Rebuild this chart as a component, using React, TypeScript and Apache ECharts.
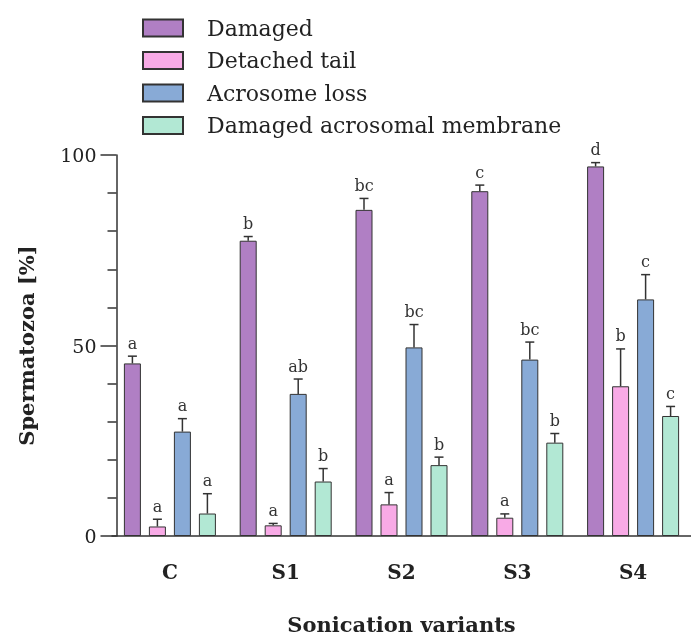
import React, { useEffect, useRef } from "react";
import * as echarts from "echarts";

const categories = ["C", "S1", "S2", "S3", "S4"];
const seriesNames = ["Damaged", "Detached tail", "Acrosome loss", "Damaged acrosomal membrane"];
const damaged = [45.3, 77.5, 85.6, 90.5, 97.0];
const damagedErr = [47.2, 78.6, 88.6, 92.1, 98.0];
const damagedLetters = ["a", "b", "bc", "c", "d"];
const detached = [2.5, 2.8, 8.3, 4.8, 39.3];
const detachedErr = [4.4, 3.3, 11.4, 5.8, 49.1];
const detachedLetters = ["a", "a", "a", "a", "b"];
const acrosome = [27.4, 37.3, 49.5, 46.3, 62.1];
const acrosomeErr = [30.8, 41.2, 55.5, 50.9, 68.6];
const acrosomeLetters = ["a", "ab", "bc", "bc", "c"];
const membrane = [5.9, 14.3, 18.6, 24.5, 31.5];
const membraneErr = [11.1, 17.7, 20.7, 26.9, 34.0];
const membraneLetters = ["a", "b", "b", "b", "c"];
const colors = ["#B07FC4", "#F8AAE6", "#88AAD6", "#B2E8D4"];

const FONT = '"DejaVu Serif", serif';
const BAR_W = 17;
const BAR_GAP = 8;

export default function App() {
  const ref = useRef<HTMLDivElement>(null);
  useEffect(() => {
    if (!ref.current) return;
    const chart = echarts.init(ref.current, null, { renderer: "svg" });
    const means = [damaged, detached, acrosome, membrane];
    const errs = [damagedErr, detachedErr, acrosomeErr, membraneErr];
    const letters = [damagedLetters, detachedLetters, acrosomeLetters, membraneLetters];

    const barSeries = seriesNames.map((name, i) => ({
      name,
      type: "bar",
      data: means[i],
      barWidth: BAR_W,
      barGap: (BAR_GAP / BAR_W) * 100 + "%",
      itemStyle: { color: colors[i], borderColor: "#333", borderWidth: 1 },
      z: 2,
    }));

    const errSeries = seriesNames.map((name, i) => {
      const offset = (i - 1.5) * (BAR_W + BAR_GAP);
      return {
        name: "err-" + name,
        type: "custom",
        z: 3,
        data: categories.map((_, k) => [k, means[i][k], errs[i][k]]),
        encode: { x: 0, y: [1, 2] },
        renderItem: (params: any, api: any) => {
          const ci = api.value(0);
          const c = api.coord([ci, api.value(1)]);
          const t = api.coord([ci, api.value(2)]);
          const x = c[0] + offset;
          const st = { stroke: "#333", lineWidth: 1.5 };
          return {
            type: "group",
            children: [
              { type: "line", shape: { x1: x, y1: c[1], x2: x, y2: t[1] }, style: st },
              { type: "line", shape: { x1: x - 4.5, y1: t[1], x2: x + 4.5, y2: t[1] }, style: st },
              {
                type: "text",
                x,
                y: t[1] - 5,
                style: {
                  text: letters[i][params.dataIndex],
                  align: "center",
                  verticalAlign: "bottom",
                  font: '16px "DejaVu Serif", serif',
                  fill: "#333",
                },
              },
            ],
          };
        },
      };
    });

    chart.setOption({
      animation: false,
      legend: {
        data: seriesNames,
        orient: "vertical",
        left: 142,
        top: 17,
        padding: 0,
        itemWidth: 40,
        itemHeight: 17,
        itemGap: 10.5,
        icon: "rect",
        textStyle: {
          fontFamily: FONT,
          fontSize: 22,
          lineHeight: 22,
          color: "#222",
          padding: [0, 0, 0, 19],
        },
      },
      grid: { left: 112, right: -9, top: 155, bottom: 97 },
      xAxis: {
        type: "category",
        data: categories,
        name: "Sonication variants",
        nameLocation: "middle",
        nameGap: 78,
        nameTextStyle: { fontFamily: FONT, fontSize: 21, fontWeight: "bold", color: "#222" },
        axisLine: { lineStyle: { color: "#333", width: 1.5 } },
        axisTick: { alignWithLabel: true, length: 15, lineStyle: { color: "#333", width: 1.5 } },
        axisLabel: { fontFamily: FONT, fontSize: 20, fontWeight: "bold", color: "#222", margin: 26 },
      },
      yAxis: {
        type: "value",
        min: 0,
        max: 100,
        interval: 50,
        offset: -4.5,
        name: "Spermatozoa [%]",
        nameLocation: "middle",
        nameGap: 80,
        nameTextStyle: { fontFamily: FONT, fontSize: 21, fontWeight: "bold", color: "#222" },
        axisLine: { show: true, lineStyle: { color: "#333", width: 1.5 } },
        axisTick: { show: true, length: 16, lineStyle: { color: "#333", width: 1.5 } },
        minorTick: { show: true, splitNumber: 5, length: 9, lineStyle: { color: "#333", width: 1.5 } },
        splitLine: { show: false },
        axisLabel: { fontFamily: FONT, fontSize: 19, color: "#222", margin: 20 },
      },
      series: [...barSeries, ...errSeries],
    });
    return () => chart.dispose();
  }, []);
  return (
    <div
      ref={ref}
      style={{ position: "fixed", left: 0, top: 0, width: 691, height: 640 }}
    />
  );
}
